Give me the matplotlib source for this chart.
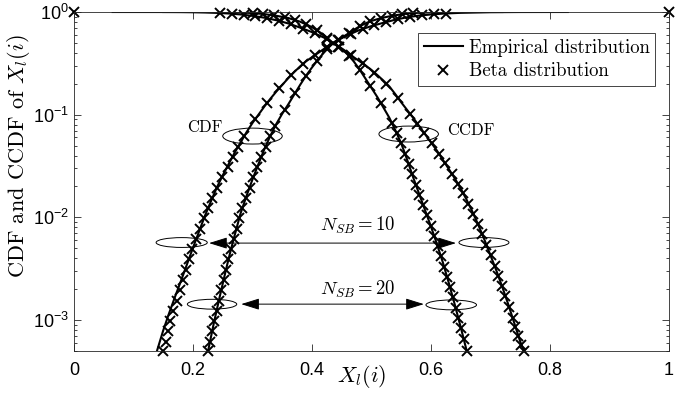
import numpy as np
import matplotlib
matplotlib.use("Agg")
import matplotlib.pyplot as plt
from matplotlib.patches import Ellipse
from matplotlib.patches import ArrowStyle

plt.rcParams['font.family'] = 'serif'
plt.rcParams['font.serif'] = ['cmr10', 'DejaVu Serif']
plt.rcParams['mathtext.fontset'] = 'cm'
plt.rcParams['axes.formatter.use_mathtext'] = True

# empirical curves, y given as log10 exponents
x_cdf10 = [0.138, 0.14, 0.15, 0.16, 0.17, 0.18, 0.19, 0.20, 0.21, 0.22, 0.23, 0.24, 0.25, 0.26, 0.27,
           0.28, 0.29, 0.30, 0.31, 0.32, 0.33, 0.34, 0.35, 0.36, 0.37, 0.38, 0.39, 0.40, 0.41, 0.42,
           0.43, 0.44, 0.46, 0.48, 0.50, 0.52, 0.54, 0.56, 0.58, 0.60, 0.62, 0.65, 0.70, 0.75, 0.83]
e_cdf10 = [-3.33, -3.29, -3.10, -2.93, -2.77, -2.615, -2.455, -2.295, -2.14, -1.985, -1.845, -1.71,
           -1.59, -1.48, -1.37, -1.27, -1.17, -1.08, -1.00, -0.92, -0.845, -0.775, -0.71, -0.645,
           -0.585, -0.53, -0.48, -0.44, -0.40, -0.36, -0.32, -0.285, -0.225, -0.175, -0.137, -0.105,
           -0.075, -0.051, -0.035, -0.024, -0.016, -0.008, -0.0019, -0.0003, 0.0]

x_ccdf10 = [0.065, 0.15, 0.18, 0.20, 0.22, 0.24, 0.26, 0.28, 0.30, 0.32, 0.34, 0.36, 0.38, 0.40, 0.42,
            0.435, 0.45, 0.46, 0.47, 0.48, 0.49, 0.50, 0.51, 0.52, 0.53, 0.54, 0.55, 0.56, 0.57, 0.58,
            0.59, 0.60, 0.61, 0.62, 0.63, 0.64, 0.65, 0.66, 0.67, 0.68, 0.69, 0.70, 0.71, 0.72, 0.73,
            0.74, 0.75, 0.758]
e_ccdf10 = [0.0, -0.0003, -0.001, -0.0023, -0.0046, -0.0086, -0.0146, -0.024, -0.0376, -0.0555, -0.080,
            -0.111, -0.152, -0.196, -0.249, -0.30, -0.355, -0.395, -0.44, -0.48, -0.52, -0.565, -0.615,
            -0.668, -0.725, -0.80, -0.88, -0.955, -1.03, -1.11, -1.19, -1.27, -1.35, -1.44, -1.53,
            -1.62, -1.72, -1.83, -1.95, -2.08, -2.22, -2.37, -2.52, -2.68, -2.85, -3.03, -3.21, -3.33]

x_cdf20 = [0.224, 0.225, 0.23, 0.235, 0.24, 0.245, 0.25, 0.255, 0.26, 0.265, 0.27, 0.28, 0.29, 0.30,
           0.31, 0.32, 0.33, 0.34, 0.35, 0.36, 0.37, 0.38, 0.39, 0.40, 0.41, 0.42, 0.43, 0.44, 0.45,
           0.46, 0.47, 0.48, 0.49, 0.50, 0.51, 0.52, 0.53, 0.54, 0.55, 0.56, 0.57, 0.58, 0.60, 0.62,
           0.64, 0.66, 0.72]
e_cdf20 = [-3.34, -3.31, -3.17, -3.03, -2.90, -2.77, -2.645, -2.52, -2.40, -2.285, -2.175, -1.96, -1.79,
           -1.63, -1.48, -1.335, -1.205, -1.09, -0.99, -0.90, -0.805, -0.71, -0.62, -0.54, -0.465,
           -0.395, -0.333, -0.283, -0.249, -0.214, -0.175, -0.140, -0.110, -0.087, -0.0696, -0.0543,
           -0.0425, -0.0319, -0.0234, -0.016, -0.0108, -0.0074, -0.0035, -0.0016, -0.0006, -0.0002, 0.0]

x_ccdf20 = [0.15, 0.20, 0.24, 0.26, 0.28, 0.30, 0.32, 0.34, 0.36, 0.38, 0.40, 0.42, 0.435, 0.44, 0.45,
            0.46, 0.47, 0.48, 0.49, 0.50, 0.51, 0.52, 0.53, 0.54, 0.55, 0.56, 0.57, 0.58, 0.59, 0.60,
            0.61, 0.62, 0.63, 0.64, 0.65, 0.66, 0.662]
e_ccdf20 = [0.0, -0.0001, -0.00055, -0.0017, -0.0048, -0.0103, -0.0205, -0.0368, -0.0585, -0.0942,
            -0.1476, -0.224, -0.30, -0.32, -0.36, -0.41, -0.48, -0.56, -0.65, -0.74, -0.83, -0.93,
            -1.03, -1.15, -1.28, -1.44, -1.61, -1.77, -1.93, -2.09, -2.26, -2.44, -2.64, -2.85, -3.07,
            -3.30, -3.34]

# beta fit markers
xm_cdf10 = [0.150, 0.154, 0.1575, 0.162, 0.167, 0.173, 0.1785, 0.184, 0.189, 0.194, 0.199, 0.205,
            0.211, 0.218, 0.225, 0.232, 0.240, 0.248, 0.258, 0.267, 0.276, 0.286, 0.305, 0.325, 0.345,
            0.365, 0.385, 0.405, 0.425, 0.445, 0.465, 0.485, 0.505, 0.525, 0.545, 0.565, 0.585, 0.605,
            0.625, 1.0]
em_cdf10 = [-3.30, -3.21, -3.11, -3.01, -2.91, -2.81, -2.71, -2.61, -2.51, -2.41, -2.31, -2.21, -2.11,
            -2.01, -1.91, -1.81, -1.71, -1.61, -1.51, -1.41, -1.31, -1.21, -1.04, -0.882, -0.742,
            -0.615, -0.505, -0.42, -0.34, -0.27, -0.2125, -0.1655, -0.129, -0.0975, -0.069, -0.047,
            -0.032, -0.022, -0.0147, 0.0]

xm_ccdf10 = [0.0, 0.245, 0.265, 0.285, 0.305, 0.325, 0.345, 0.365, 0.385, 0.405, 0.425, 0.445, 0.465,
             0.485, 0.505, 0.525, 0.545, 0.565, 0.577, 0.589, 0.601, 0.613, 0.624, 0.635, 0.645, 0.654,
             0.663, 0.671, 0.679, 0.686, 0.693, 0.700, 0.707, 0.713, 0.719, 0.725, 0.731, 0.737, 0.742,
             0.747, 0.752, 0.756]
em_ccdf10 = [0.0, -0.0098, -0.0166, -0.027, -0.0415, -0.061, -0.0867, -0.1207, -0.1628, -0.2076, -0.265,
             -0.337, -0.417, -0.50, -0.59, -0.70, -0.84, -0.99, -1.09, -1.18, -1.28, -1.38, -1.475,
             -1.575, -1.67, -1.765, -1.866, -1.963, -2.067, -2.164, -2.265, -2.37, -2.475, -2.57,
             -2.664, -2.765, -2.868, -2.976, -3.066, -3.156, -3.246, -3.30]

xm_cdf20 = [0.225, 0.2286, 0.2321, 0.2358, 0.2396, 0.2435, 0.2474, 0.2514, 0.2554, 0.2596, 0.2639,
            0.2684, 0.2732, 0.2777, 0.2829, 0.2888, 0.2950, 0.3013, 0.3080, 0.3149, 0.3219, 0.3296,
            0.3382, 0.354, 0.372, 0.390, 0.408, 0.426, 0.444, 0.462, 0.480, 0.498, 0.516, 0.534,
            0.552, 0.570]
em_cdf20 = [-3.30, -3.21, -3.11, -3.01, -2.91, -2.81, -2.71, -2.61, -2.51, -2.41, -2.31, -2.21, -2.11,
            -2.01, -1.91, -1.81, -1.71, -1.61, -1.51, -1.41, -1.31, -1.21, -1.11, -0.954, -0.786,
            -0.62, -0.479, -0.358, -0.269, -0.206, -0.140, -0.092, -0.061, -0.038, -0.022, -0.011]

xm_ccdf20 = [0.300, 0.318, 0.336, 0.354, 0.372, 0.390, 0.408, 0.426, 0.444, 0.462, 0.480, 0.498, 0.516,
             0.534, 0.5423, 0.550, 0.5563, 0.5624, 0.5682, 0.5744, 0.5806, 0.5869, 0.5931, 0.5994,
             0.6053, 0.6111, 0.6167, 0.622, 0.627, 0.6319, 0.6367, 0.6414, 0.6459, 0.6505, 0.6555, 0.660]
em_ccdf20 = [-0.0103, -0.0192, -0.033, -0.0512, -0.0777, -0.1191, -0.1753, -0.2507, -0.336, -0.424,
             -0.56, -0.722, -0.886, -1.078, -1.18, -1.28, -1.38, -1.48, -1.58, -1.68, -1.78, -1.88,
             -1.98, -2.08, -2.18, -2.28, -2.38, -2.48, -2.58, -2.68, -2.78, -2.88, -2.98, -3.08, -3.18,
             -3.30]

xticks = [0, 0.2, 0.4, 0.6, 0.8, 1]
xticklabels = ['0', '0.2', '0.4', '0.6', '0.8', '1']

fig = plt.figure(figsize=(6.99, 3.95), dpi=100)
ax = fig.add_axes([74/699, 44/395, 595/699, 339/395])

lines = [(x_cdf10, e_cdf10), (x_ccdf10, e_ccdf10), (x_cdf20, e_cdf20), (x_ccdf20, e_ccdf20)]
marks = [(xm_cdf10, em_cdf10), (xm_ccdf10, em_ccdf10), (xm_cdf20, em_cdf20), (xm_ccdf20, em_ccdf20)]
for i, (xx, ee) in enumerate(lines):
    ax.plot(xx, 10.0 ** np.array(ee), color='k', lw=1.5,
            label='Empirical distribution' if i == 0 else None)
for i, (xx, ee) in enumerate(marks):
    ax.plot(xx, 10.0 ** np.array(ee), ls='none', marker='x', color='k', ms=6.5, mew=1.4,
            clip_on=False, label='Beta distribution' if i == 0 else None)

ax.set_yscale('log')
ax.set_xlim(0, 1)
ax.set_ylim(5e-4, 1)
ax.set_xticks(xticks)
ax.set_xticklabels(xticklabels)
ax.set_yticks([1e-3, 1e-2, 1e-1, 1])
ax.tick_params(which='both', direction='in', top=True, right=True, width=0.6, color='0.15',
               labelsize=13, labelfontfamily='Liberation Sans')
ax.tick_params(which='major', length=5)
ax.tick_params(which='minor', length=2.5)
ax.tick_params(axis='x', pad=8)
for s in ax.spines.values():
    s.set_linewidth(0.6)
    s.set_color('0.15')

ax.set_xlabel(r'$X_l(i)$', fontsize=16)
ax.xaxis.set_label_coords(0.484, -0.035)
ax.set_ylabel(r'CDF and CCDF of $X_l(i)$', fontsize=16)
ax.yaxis.set_label_coords(-0.071, 0.575)

# ellipses marking the curve groups
ell = [(0.30, 0.634, 0.10, 0.047), (0.5625, 0.640, 0.10, 0.047),
       (0.181, 0.320, 0.086, 0.029), (0.689, 0.320, 0.084, 0.029),
       (0.232, 0.138, 0.083, 0.029), (0.634, 0.136, 0.085, 0.029)]
for cx, cy, w, h in ell:
    ax.add_patch(Ellipse((cx, cy), w, h, transform=ax.transAxes, fill=False, lw=0.7, ec='k'))

ax.text(0.249, 0.075, 'CDF', ha='right', va='center', fontsize=12)
ax.text(0.627, 0.071, 'CCDF', ha='left', va='center', fontsize=12)
ax.text(0.477, 8.4e-3, r'$N_{SB}=10$', ha='center', va='center', fontsize=13.5)
ax.text(0.477, 2.0e-3, r'$N_{SB}=20$', ha='center', va='center', fontsize=13.5)

arr = ArrowStyle('<|-|>', head_length=0.8, head_width=0.25)
ax.annotate('', xy=(0.227, 5.62e-3), xytext=(0.642, 5.62e-3),
            arrowprops=dict(arrowstyle=arr, color='k', lw=0.7, shrinkA=0, shrinkB=0, mutation_scale=14))
ax.annotate('', xy=(0.281, 1.43e-3), xytext=(0.588, 1.43e-3),
            arrowprops=dict(arrowstyle=arr, color='k', lw=0.7, shrinkA=0, shrinkB=0, mutation_scale=14))

leg = ax.legend(loc='upper right', bbox_to_anchor=(0.9765, 0.938), borderaxespad=0, fontsize=13.5,
                fancybox=False, framealpha=1, edgecolor='0.15', handlelength=2.1, handletextpad=0.3,
                labelspacing=0.3, borderpad=0.3)
leg.get_frame().set_linewidth(0.6)

fig.savefig('out.png', dpi=100)
